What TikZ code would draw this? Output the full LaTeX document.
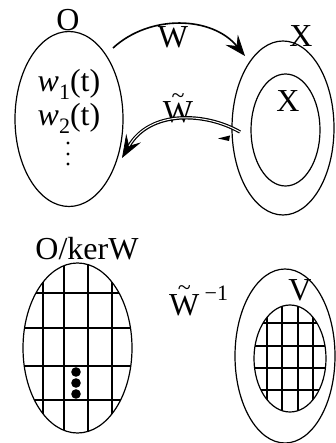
\documentclass[tikz,border=0pt]{standalone}
\usepackage{fontspec}
\setmainfont{Liberation Serif}
\usetikzlibrary{arrows.meta,shapes.geometric}
\newcommand{\tildeW}{{\ooalign{W\cr\hidewidth\raisebox{0.62em}{\fontsize{24}{24}\selectfont\textasciitilde}\hidewidth\cr}}}
\begin{document}
\begin{tikzpicture}[x=1pt,y=-1pt,
  lbl/.style={inner sep=0pt, anchor=base, font=\fontsize{32}{38}\selectfont},
  ring/.style={draw, ellipse, inner sep=0pt, line width=1.2pt},
  gridline/.style={line width=1.3pt},
  bigtip/.style={-{Stealth[length=21pt,width=16pt,inset=8pt,line width=0.8pt]}}]
\useasboundingbox (0,0) rectangle (335,443);

% ---- top left: O
\node[ring, minimum width=108pt, minimum height=175pt] (O) at (69,119) {};
\node[lbl] (Olbl) at (68,31) {O};
\node[lbl] (w1) at (69,92) {\textit{w}\raisebox{-0.22em}{\fontsize{22}{22}\selectfont 1}(t)};
\node[lbl] (w2) at (69,126) {\textit{w}\raisebox{-0.22em}{\fontsize{22}{22}\selectfont 2}(t)};
\fill (68,143) circle [radius=1.7] (68,154) circle [radius=1.7] (68,164) circle [radius=1.7];

% ---- top right: X
\node[ring, minimum width=102pt, minimum height=174pt] (Xout) at (283,128) {};
\node[ring, minimum width=69pt, minimum height=112pt] (Xin) at (285.5,130) {};
\node[lbl] (Xoutlbl) at (301,47) {X};
\node[lbl] (Xinlbl) at (288,112) {X};

% ---- arrows
\coordinate (ws) at (113,48);
\coordinate (we) at (245,56);
\draw[line width=1.6pt, bigtip] (ws) .. controls (150,14) and (212,16) .. (we);
\node[lbl] (Wlbl) at (173,48) {W};

\coordinate (ts) at (240,132);
\coordinate (te) at (122,158);
\node[lbl] (Wtlbl) at (178,123) {\tildeW};
\draw[line width=3.4pt, -{Stealth[length=23pt,width=17pt,inset=9pt,line width=0.8pt]}] (ts) .. controls (205,112) and (150,110) .. (te);
\draw[white, line width=1pt, shorten >=14pt] (ts) .. controls (205,112) and (150,110) .. (te);
\fill (218,138.5) -- (230,135.5) -- (229,141) -- cycle;

% ---- bottom left: O/kerW
\begin{scope}
  \clip (77.5,348) ellipse [x radius=54.5, y radius=85];
  \foreach \x in {43,64,88,112} \draw[gridline] (\x,250) -- (\x,440);
  \foreach \y in {293,366,400} \draw[gridline] (20,\y) -- (140,\y);
  \draw[line width=1.9pt] (20,328) -- (140,328);
\end{scope}
\node[ring, minimum width=109pt, minimum height=170pt] (Q) at (77.5,348) {};
\node[lbl] (Qlbl) at (87,259) {O/kerW};
\fill (76,372) circle [radius=4.8] (76,383) circle [radius=4.8] (76,394) circle [radius=4.8];

% ---- bottom right: V
\node[lbl, anchor=base west] (Winv) at (169,315) {\tildeW\,\raisebox{0.45em}{\fontsize{22}{22}\selectfont −1}};
\node[ring, minimum width=100pt, minimum height=174pt] (V) at (285,356) {};
\begin{scope}
  \clip (290,358.5) ellipse [x radius=36, y radius=53.5];
  \foreach \x in {267,282,298,313} \draw[gridline] (\x,300) -- (\x,415);
  \foreach \y in {323,346,368,390} \draw[gridline] (250,\y) -- (330,\y);
\end{scope}
\node[ring, minimum width=72pt, minimum height=107pt] (Vin) at (290,358.5) {};
\node[lbl] (Vlbl) at (300,300) {V};
\end{tikzpicture}
\end{document}
